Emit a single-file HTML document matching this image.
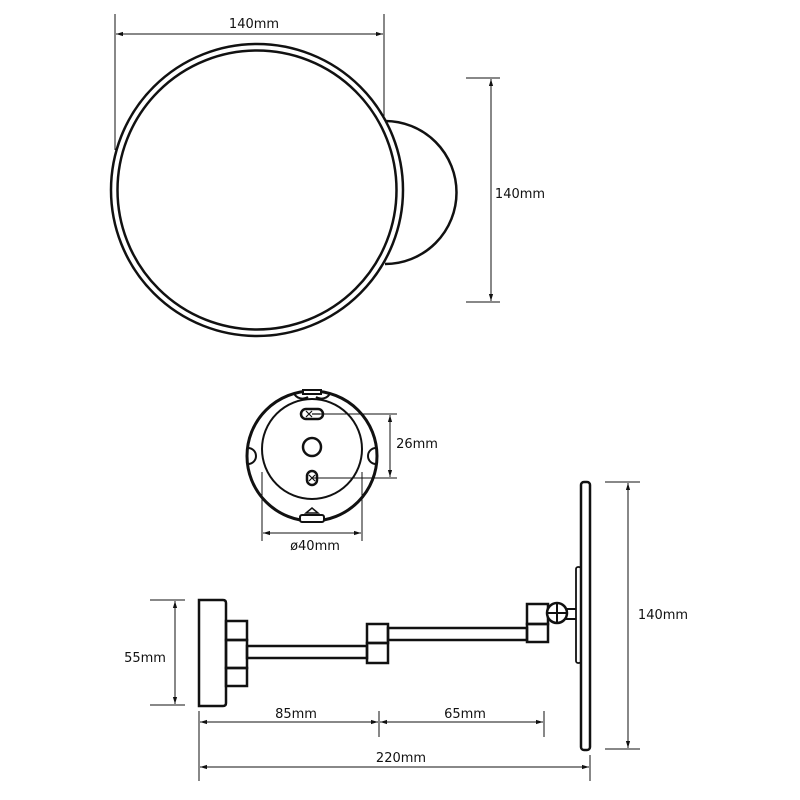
<!DOCTYPE html>
<html><head><meta charset="utf-8"><style>
html,body{margin:0;padding:0;background:#fff}
svg{display:block}
text{font-family:"DejaVu Sans","Liberation Sans",sans-serif;font-size:13px;fill:#111}
</style></head><body>
<svg width="800" height="800" viewBox="0 0 800 800" xmlns="http://www.w3.org/2000/svg">
<defs>
<marker id="a" viewBox="0 0 10 10" refX="10" refY="5" markerWidth="7" markerHeight="7" orient="auto-start-reverse"><path d="M0,2 L10,5 L0,8 z" fill="#111"/></marker>
</defs>
<g stroke="#111" fill="none">
<path d="M385,121 A71,71 0 0 1 385,264" stroke-width="2.5"/>
<circle cx="257" cy="190" r="146" fill="#fff" stroke-width="2.5"/>
<circle cx="257" cy="190" r="139.5" stroke-width="2.5"/>
<line x1="115" y1="14" x2="115" y2="150" stroke-width="1"/>
<line x1="384" y1="14" x2="384" y2="120" stroke-width="1"/>
<line x1="116" y1="34" x2="383" y2="34" stroke-width="1" marker-start="url(#a)" marker-end="url(#a)"/>
<line x1="466" y1="78" x2="500" y2="78" stroke-width="1"/>
<line x1="466" y1="302" x2="500" y2="302" stroke-width="1"/>
<line x1="491" y1="79" x2="491" y2="301" stroke-width="1" marker-start="url(#a)" marker-end="url(#a)"/>

<circle cx="312" cy="456" r="65" stroke-width="3"/>
<circle cx="312" cy="449" r="50" stroke-width="2"/>
<rect x="303" y="390" width="18" height="4" fill="#fff" stroke-width="2"/>
<path d="M294,393 a9,8 0 0 0 14,4 M316,397 a9,8 0 0 0 14,-4" stroke-width="2"/>
<path d="M248,448 a8,8 0 0 1 0,16" stroke-width="2"/>
<path d="M376,448 a8,8 0 0 0 0,16" stroke-width="2"/>
<rect x="301" y="409" width="22" height="10" rx="5" stroke-width="2.5"/>
<path d="M306,411 l6,6 M312,411 l-6,6 M312,414 l8,0" stroke-width="1.2"/>
<circle cx="312" cy="447" r="9" stroke-width="2.5"/>
<rect x="307" y="471" width="10" height="14" rx="5" stroke-width="2.5"/>
<path d="M309,475 l6,6 M315,475 l-6,6" stroke-width="1.2"/>
<rect x="300" y="515" width="24" height="7" rx="2" stroke-width="2" fill="#fff"/>
<path d="M306,513 l6,-5 l6,5 z" stroke-width="1.5"/>
<line x1="312" y1="414" x2="397" y2="414" stroke-width="1"/>
<line x1="312" y1="478" x2="397" y2="478" stroke-width="1"/>
<line x1="390" y1="415" x2="390" y2="477" stroke-width="1" marker-start="url(#a)" marker-end="url(#a)"/>
<line x1="262" y1="472" x2="262" y2="541" stroke-width="1"/>
<line x1="362" y1="472" x2="362" y2="541" stroke-width="1"/>
<line x1="263" y1="533" x2="361" y2="533" stroke-width="1" marker-start="url(#a)" marker-end="url(#a)"/>

<path d="M199,600 H223 Q226,600 226,603 V703 Q226,706 223,706 H199 Z" stroke-width="2.5"/>
<rect x="226" y="621" width="21" height="19" stroke-width="2.5"/>
<rect x="226" y="640" width="21" height="28" stroke-width="2.5"/>
<rect x="226" y="668" width="21" height="18" stroke-width="2.5"/>
<rect x="247" y="646" width="120" height="12" stroke-width="2.5"/>
<rect x="367" y="624" width="21" height="19" stroke-width="2.5"/>
<rect x="367" y="643" width="21" height="20" stroke-width="2.5"/>
<rect x="388" y="628" width="139" height="12" stroke-width="2.5"/>
<rect x="527" y="604" width="21" height="20" stroke-width="2.5"/>
<rect x="527" y="624" width="21" height="18" stroke-width="2.5"/>
<rect x="566" y="609" width="11" height="10" stroke-width="2"/>
<circle cx="557" cy="613" r="10" fill="#fff" stroke-width="2.5"/>
<path d="M547,613 H567 M557,603 V623" stroke-width="2"/>
<rect x="576" y="567" width="5" height="96" rx="2" stroke-width="1.8" fill="#fff"/>
<rect x="581" y="482" width="9" height="268" rx="3" stroke-width="2.5" fill="#fff"/>

<line x1="150" y1="600" x2="185" y2="600" stroke-width="1"/>
<line x1="150" y1="705" x2="185" y2="705" stroke-width="1"/>
<line x1="175" y1="601" x2="175" y2="704" stroke-width="1" marker-start="url(#a)" marker-end="url(#a)"/>
<line x1="199" y1="711" x2="199" y2="781" stroke-width="1"/>
<line x1="379" y1="711" x2="379" y2="737" stroke-width="1"/>
<line x1="544" y1="711" x2="544" y2="737" stroke-width="1"/>
<line x1="590" y1="755" x2="590" y2="781" stroke-width="1"/>
<line x1="200" y1="722" x2="378" y2="722" stroke-width="1" marker-start="url(#a)" marker-end="url(#a)"/>
<line x1="380" y1="722" x2="543" y2="722" stroke-width="1" marker-start="url(#a)" marker-end="url(#a)"/>
<line x1="200" y1="767" x2="589" y2="767" stroke-width="1" marker-start="url(#a)" marker-end="url(#a)"/>
<line x1="605" y1="482" x2="640" y2="482" stroke-width="1"/>
<line x1="605" y1="749" x2="640" y2="749" stroke-width="1"/>
<line x1="628" y1="483" x2="628" y2="748" stroke-width="1" marker-start="url(#a)" marker-end="url(#a)"/>
</g>
<text x="254" y="28" text-anchor="middle">140mm</text>
<text x="520" y="198" text-anchor="middle">140mm</text>
<text x="417" y="448" text-anchor="middle">26mm</text>
<text x="315" y="550" text-anchor="middle">ø40mm</text>
<text x="145" y="662" text-anchor="middle">55mm</text>
<text x="296" y="718" text-anchor="middle">85mm</text>
<text x="465" y="718" text-anchor="middle">65mm</text>
<text x="401" y="762" text-anchor="middle">220mm</text>
<text x="663" y="619" text-anchor="middle">140mm</text>
</svg>
</body></html>
